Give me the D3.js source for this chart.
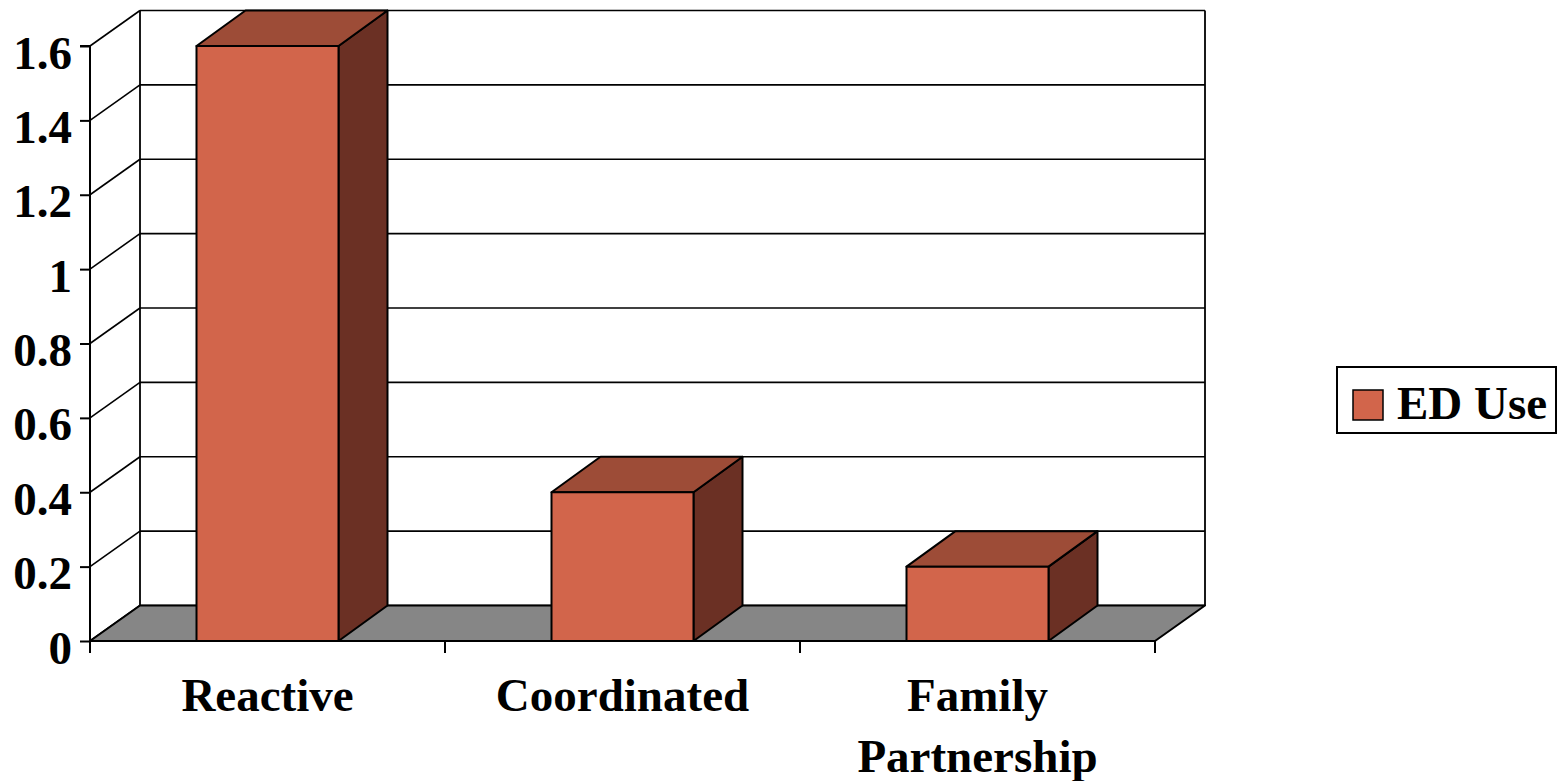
<!DOCTYPE html>
<html>
<head>
<meta charset="utf-8">
<script src="https://cdn.jsdelivr.net/npm/d3@7"></script>
<style>
  html, body { margin: 0; padding: 0; background: #fff; }
  svg { display: block; }
  text { font-family: "Liberation Serif", "Times New Roman", serif; font-weight: bold; fill: #000; }
</style>
</head>
<body>
<svg id="chart" width="1558" height="781"></svg>
<script>
// ED use by care model
const categories = ["Reactive", "Coordinated", "Family Partnership"];
const categoryLines = [["Reactive"], ["Coordinated"], ["Family", "Partnership"]];
const edUse = [1.6, 0.4, 0.2];
const yTicks = [0, 0.2, 0.4, 0.6, 0.8, 1, 1.2, 1.4, 1.6];
const yTickLabels = ["0", "0.2", "0.4", "0.6", "0.8", "1", "1.2", "1.4", "1.6"];
const seriesName = "ED Use";

const colors = {
  front: "#D2654B",
  top: "#9D4C37",
  side: "#6B3024",
  floor: "#868686"
};

const svg = d3.select("#chart");

// Plot geometry: front plane plus a depth offset to the back wall
const left = 90, right = 1155, bottom = 641, topY = 46;
const depth = { dx: 50, dy: -35.5 };

const y = d3.scaleLinear().domain([0, 1.6]).range([bottom, topY]);
const x = d3.scaleBand().domain(categories).range([left, right])
  .paddingInner(0.6).paddingOuter(0.3);
const xEdges = d3.scaleLinear().domain([0, categories.length]).range([left, right]);

const stroke = "#000";
const g = svg.append("g");

// Back wall horizontal gridlines
g.append("g").selectAll("line").data(yTicks).join("line")
  .attr("x1", left + depth.dx).attr("x2", right + depth.dx)
  .attr("y1", d => y(d) + depth.dy).attr("y2", d => y(d) + depth.dy)
  .attr("stroke", stroke).attr("stroke-width", 1.6);

// Side wall diagonal gridlines
g.append("g").selectAll("line").data(yTicks).join("line")
  .attr("x1", left).attr("x2", left + depth.dx)
  .attr("y1", d => y(d)).attr("y2", d => y(d) + depth.dy)
  .attr("stroke", stroke).attr("stroke-width", 1.6);

// Back wall vertical edges
g.append("line")
  .attr("x1", left + depth.dx).attr("x2", left + depth.dx)
  .attr("y1", y(0) + depth.dy).attr("y2", y(1.6) + depth.dy)
  .attr("stroke", stroke).attr("stroke-width", 1.8);
g.append("line")
  .attr("x1", right + depth.dx).attr("x2", right + depth.dx)
  .attr("y1", y(0) + depth.dy).attr("y2", y(1.6) + depth.dy)
  .attr("stroke", stroke).attr("stroke-width", 1.8);

// Floor
const floorPts = [
  [left, y(0)], [right, y(0)],
  [right + depth.dx, y(0) + depth.dy], [left + depth.dx, y(0) + depth.dy]
];
g.append("polygon")
  .attr("points", floorPts.map(p => p.join(",")).join(" "))
  .attr("fill", colors.floor).attr("stroke", stroke).attr("stroke-width", 2)
  .attr("stroke-linejoin", "round");

// Bars as 3D boxes
const data = categories.map((c, i) => ({ cat: c, value: edUse[i] }));
const bars = g.append("g").selectAll("g").data(data).join("g");

bars.each(function(d) {
  const b = d3.select(this);
  const x0 = x(d.cat), x1 = x(d.cat) + x.bandwidth();
  const yt = y(d.value), yb = y(0);
  const dx = depth.dx - 1, dy = depth.dy;
  const face = (pts, fill) => b.append("polygon")
    .attr("points", pts.map(p => p.join(",")).join(" "))
    .attr("fill", fill).attr("stroke", stroke).attr("stroke-width", 2)
    .attr("stroke-linejoin", "round");
  face([[x1, yb], [x1 + dx, yb + dy], [x1 + dx, yt + dy], [x1, yt]], colors.side);
  face([[x0, yt], [x1, yt], [x1 + dx, yt + dy], [x0 + dx, yt + dy]], colors.top);
  face([[x0, yb], [x1, yb], [x1, yt], [x0, yt]], colors.front);
});

// Value axis
const yAxis = d3.axisLeft(y).tickValues(yTicks).tickSize(10)
  .tickFormat((d, i) => yTickLabels[i]);
const ya = svg.append("g").attr("transform", `translate(${left},0)`).call(yAxis);
ya.select(".domain").attr("stroke", stroke).attr("stroke-width", 2)
  .attr("d", `M-10,${y(1.6)}H0V${y(0)}`);
ya.selectAll(".tick line").attr("stroke", stroke).attr("stroke-width", 2);
ya.selectAll(".tick text")
  .attr("x", -18).attr("dy", null).attr("y", 22)
  .attr("font-size", 47)
  .attr("font-family", "'Liberation Serif', 'Times New Roman', serif")
  .attr("font-weight", "bold").attr("fill", "#000");

// Category axis
const xa = svg.append("g");
xa.append("line")
  .attr("x1", left).attr("x2", right).attr("y1", bottom).attr("y2", bottom)
  .attr("stroke", stroke).attr("stroke-width", 2);
xa.selectAll("line.tick").data(d3.range(categories.length + 1)).join("line")
  .attr("class", "tick")
  .attr("x1", d => xEdges(d)).attr("x2", d => xEdges(d))
  .attr("y1", bottom).attr("y2", bottom + 12)
  .attr("stroke", stroke).attr("stroke-width", 2);

const labels = xa.selectAll("text").data(categories).join("text")
  .attr("text-anchor", "middle")
  .attr("font-size", 47)
  .attr("x", (d, i) => xEdges(i + 0.5))
  .attr("y", 711);
labels.each(function(d, i) {
  const t = d3.select(this);
  categoryLines[i].forEach((line, j) => {
    t.append("tspan")
      .attr("x", xEdges(i + 0.5))
      .attr("dy", j === 0 ? 0 : 61)
      .text(line);
  });
});

// Legend
const lg = svg.append("g");
lg.append("rect")
  .attr("x", 1337).attr("y", 367).attr("width", 219).attr("height", 66)
  .attr("fill", "#fff").attr("stroke", stroke).attr("stroke-width", 2);
lg.append("rect")
  .attr("x", 1353).attr("y", 390).attr("width", 30).attr("height", 30)
  .attr("fill", colors.front).attr("stroke", stroke).attr("stroke-width", 1.5);
lg.append("text")
  .attr("x", 1397).attr("y", 419)
  .attr("font-size", 47)
  .text(seriesName);
</script>
</body>
</html>
